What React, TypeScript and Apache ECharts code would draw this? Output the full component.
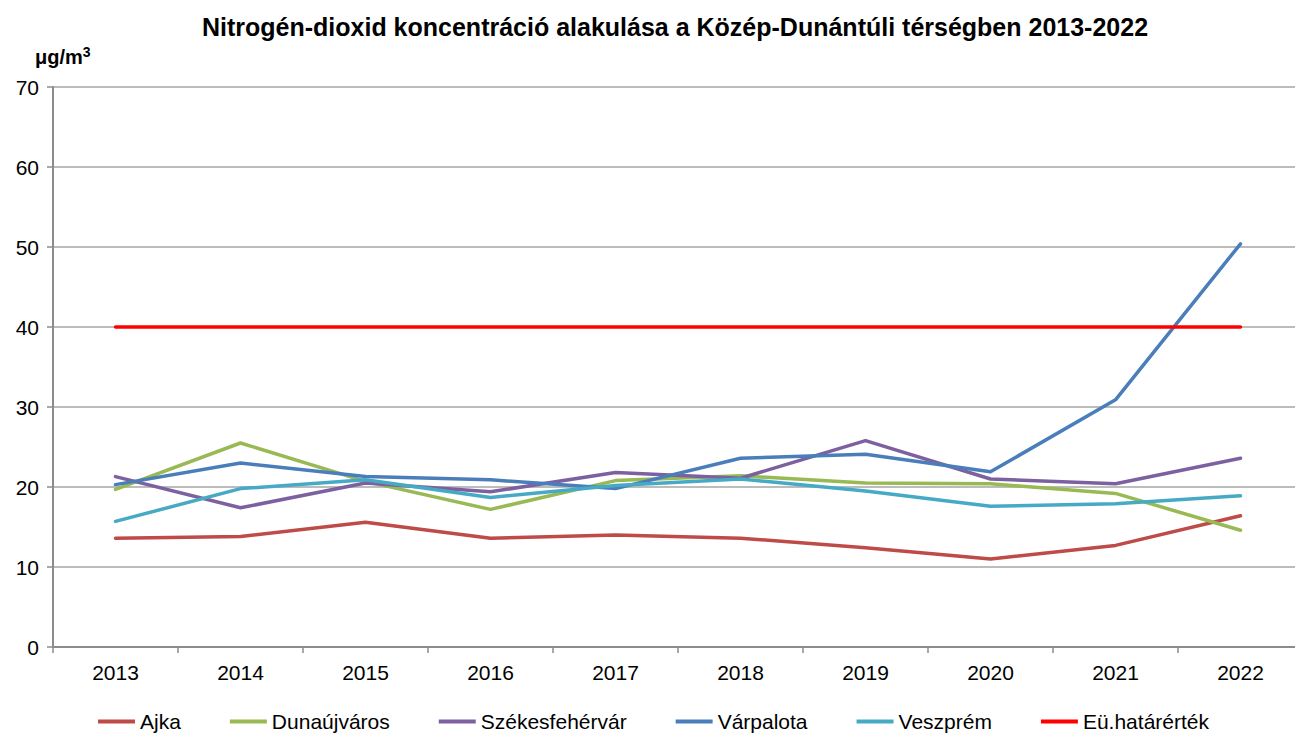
import React, { useEffect, useRef } from "react";
import * as echarts from "echarts";

const years = ["2013", "2014", "2015", "2016", "2017", "2018", "2019", "2020", "2021", "2022"];
const ajka = [13.6, 13.8, 15.6, 13.6, 14.0, 13.6, 12.4, 11.0, 12.7, 16.4];
const dunaujvaros = [19.7, 25.5, 20.7, 17.2, 20.8, 21.4, 20.5, 20.4, 19.2, 14.6];
const szekesfehervar = [21.3, 17.4, 20.5, 19.4, 21.8, 21.1, 25.8, 21.0, 20.4, 23.6];
const varpalota = [20.3, 23.0, 21.3, 20.9, 19.8, 23.6, 24.1, 21.9, 30.9, 50.4];
const veszprem = [15.7, 19.8, 20.9, 18.7, 20.2, 21.0, 19.5, 17.6, 17.9, 18.9];
const hatarertek = [40, 40, 40, 40, 40, 40, 40, 40, 40, 40];

const seriesNames = ["Ajka", "Dunaújváros", "Székesfehérvár", "Várpalota", "Veszprém", "Eü.határérték"];
const seriesData = [ajka, dunaujvaros, szekesfehervar, varpalota, veszprem, hatarertek];
const colors = ["#BE4B48", "#98B954", "#7D60A0", "#4A7EBB", "#46AAC5", "#FF0000"];

const titleText = "Nitrogén-dioxid koncentráció alakulása a Közép-Dunántúli térségben 2013-2022";
const unitBase = "μg/m";
const unitSup = "3";
const FONT = "'Liberation Sans', Arial, sans-serif";

export default function App() {
  const ref = useRef<HTMLDivElement>(null);
  useEffect(() => {
    if (!ref.current) return;
    const chart = echarts.init(ref.current, null, { renderer: "svg" });
    chart.setOption({
      animation: false,
      backgroundColor: "#ffffff",
      textStyle: { fontFamily: FONT },
      title: {
        text: titleText,
        left: 675,
        top: 14,
        textAlign: "center",
        padding: 0,
        textStyle: { fontFamily: FONT, fontSize: 25, fontWeight: "bold", color: "#000" },
      },
      graphic: [
        {
          type: "text",
          x: 35,
          y: 56,
          style: {
            text: "{b|" + unitBase + "}{s|" + unitSup + "}",
            rich: {
              b: { fontFamily: FONT, fontSize: 20, fontWeight: "bold", fill: "#000", verticalAlign: "bottom" },
              s: { fontFamily: FONT, fontSize: 14, fontWeight: "bold", fill: "#000", verticalAlign: "top", padding: [0, 0, 8, 0] },
            },
            textAlign: "left",
            textVerticalAlign: "middle",
          },
        },
      ],
      legend: {
        left: 98,
        top: 711,
        padding: 0,
        itemGap: 49,
        itemWidth: 37,
        itemHeight: 4,
        icon: "rect",
        data: seriesNames,
        textStyle: { fontFamily: FONT, fontSize: 21, color: "#000" },
      },
      grid: { left: 53, right: 0, top: 87, bottom: 86, containLabel: false },
      xAxis: {
        type: "category",
        data: years,
        boundaryGap: true,
        axisLine: { lineStyle: { color: "#8C8C8C", width: 2 } },
        axisTick: { show: true, alignWithLabel: false, length: 6, lineStyle: { color: "#8C8C8C", width: 1.5 } },
        axisLabel: { margin: 15, fontFamily: FONT, fontSize: 21, color: "#000" },
        splitLine: { show: false },
      },
      yAxis: {
        type: "value",
        min: 0,
        max: 70,
        interval: 10,
        axisLine: { show: true, lineStyle: { color: "#8C8C8C", width: 2 } },
        axisTick: { show: true, length: 6, lineStyle: { color: "#8C8C8C", width: 1.5 } },
        axisLabel: { margin: 14, fontFamily: FONT, fontSize: 21, color: "#000" },
        splitLine: { show: true, lineStyle: { color: "#A6A6A6", width: 1.5 } },
      },
      series: seriesNames.map((name, i) => ({
        name,
        type: "line",
        data: seriesData[i],
        symbol: "none",
        showSymbol: false,
        color: colors[i],
        lineStyle: { color: colors[i], width: 3.5, cap: "round", join: "round" },
        z: 2 + i,
      })),
    });
    return () => chart.dispose();
  }, []);
  return (
    <div style={{ position: "fixed", left: 0, top: 0, width: 1295, height: 733, overflow: "hidden", background: "#fff" }}>
      <div ref={ref} style={{ position: "absolute", left: 0, top: 0, width: 1303, height: 733 }} />
    </div>
  );
}
